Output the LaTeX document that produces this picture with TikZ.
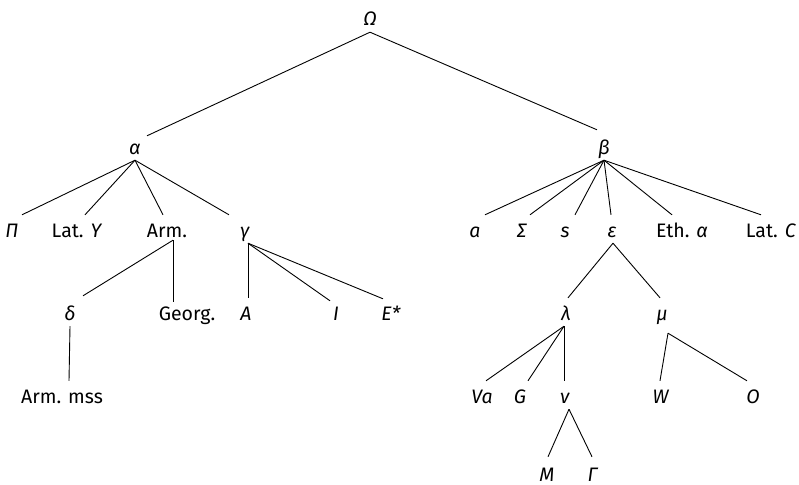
\documentclass[tikz,border=0pt]{standalone}
\usepackage{fontspec}
\setmainfont{Fira Sans}

\tikzset{
  wit/.style={anchor=base, inner xsep=0pt, inner ysep=4pt, text height=18pt, text depth=2pt,
    font=\fontsize{19.5}{22}\selectfont},
  stem/.style={line width=0.9pt},
}

\begin{document}
\begin{tikzpicture}[x=1pt,y=-1pt]
\useasboundingbox (0,0) rectangle (799,484);

% archetype and hyparchetypes
\node[wit] (Omega) at (370,26) {\textit{Ω}};
\node[wit] (alpha) at (135,154) {\textit{α}};
\node[wit] (beta) at (604,154) {\textit{β}};

% second row
\node[wit] (Pi) at (12,237) {\textit{Π}};
\node[wit] (LatY) at (77,237) {Lat. \textit{Y}};
\node[wit] (Arm) at (167,237) {Arm.};
\node[wit] (gamma) at (245,237) {\textit{γ}};
\node[wit] (a) at (475,237) {\textit{a}};
\node[wit] (Sigma) at (522,237) {\textit{Σ}};
\node[wit] (s) at (565,237) {\textit{s}};
\node[wit] (eps) at (612,237) {\textit{ε}};
\node[wit] (Eth) at (682,237) {Eth. \textit{α}};
\node[wit] (LatC) at (771,237) {Lat. \textit{C}};

% third row
\node[wit] (delta) at (70,320) {\textit{δ}};
\node[wit] (Georg) at (187,320) {Georg.};
\node[wit] (A) at (246,320) {\textit{A}};
\node[wit] (I) at (336,320) {\textit{I}};
\node[wit] (Estar) at (391,320) {\textit{E*}};
\node[wit] (lambda) at (566,320) {\textit{λ}};
\node[wit] (mu) at (662,320) {\textit{μ}};

% fourth row
\node[wit] (ArmMss) at (62,403) {Arm. mss};
\node[wit] (Va) at (482,403) {\textit{Va}};
\node[wit] (G) at (520,403) {\textit{G}};
\node[wit] (nu) at (565,403) {\textit{ν}};
\node[wit] (W) at (661,403) {\textit{W}};
\node[wit] (O) at (753,403) {\textit{O}};

% bottom row
\node[wit] (M) at (547,481) {\textit{M}};
\node[wit] (Gamma) at (593,481) {\textit{Γ}};

% stemma lines
\draw[stem] (Omega.south) -- ([xshift=12,yshift=-4]alpha.north);
\draw[stem] (Omega.south) -- ([xshift=-7,yshift=2]beta.north);
\foreach \kid/\dx in {Pi/10, LatY/8, Arm/-4, gamma/-16}
  \draw[stem] (alpha.south) -- ([xshift=\dx]\kid.north);
\foreach \kid/\dx in {a/10, Sigma/8, s/10, eps/-1, Eth/-10, LatC/-10}
  \draw[stem] (beta.south) -- ([xshift=\dx]\kid.north);
\draw[stem] ([xshift=6,yshift=3]Arm.south) -- ([xshift=13,yshift=2]delta.north);
\draw[stem] ([xshift=6,yshift=3]Arm.south) -- ([xshift=-14,yshift=-4]Georg.north);
\foreach \kid/\dx/\dy in {A/2/0, I/-6/-3, Estar/-8/-1}
  \draw[stem] ([xshift=3]gamma.south) -- ([xshift=\dx,yshift=\dy]\kid.north);
\draw[stem] (delta.south) -- ([xshift=7]ArmMss.north);
\foreach \kid/\dx in {lambda/2, mu/-2}
  \draw[stem] ([xshift=1]eps.south) -- ([xshift=\dx]\kid.north);
\foreach \kid/\dx in {Va/4, G/8, nu/-1}
  \draw[stem] ([xshift=-2]lambda.south) -- ([xshift=\dx]\kid.north);
\foreach \kid/\dx in {W/-1, O/-6}
  \draw[stem] ([xshift=6,yshift=-7]mu.south) -- ([xshift=\dx]\kid.north);
\foreach \kid/\dx in {M/1, Gamma/-1}
  \draw[stem] ([xshift=4,yshift=0]nu.south) -- ([xshift=\dx,yshift=2]\kid.north);

\end{tikzpicture}
\end{document}
